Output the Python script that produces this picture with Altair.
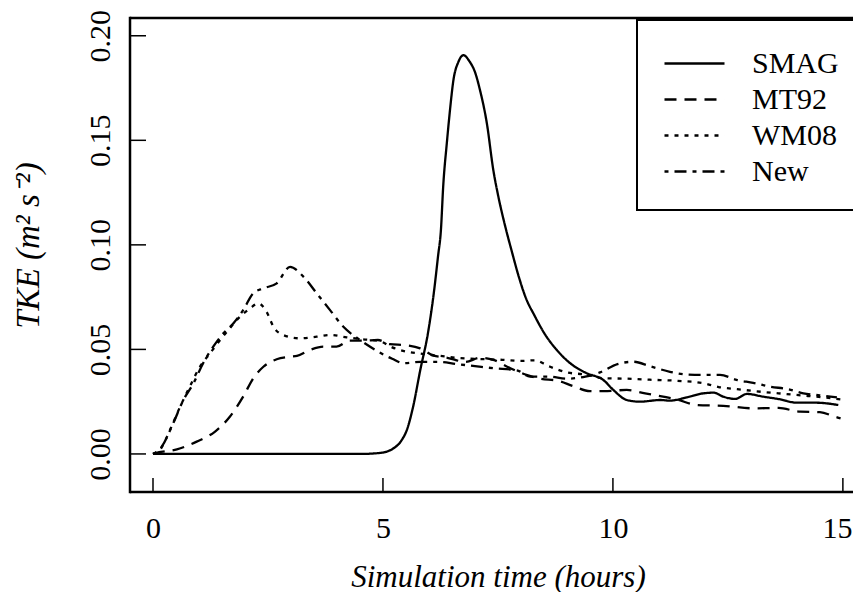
import altair as alt
import pandas as pd

# ---------------- data ----------------
models = ["SMAG", "MT92", "WM08", "New"]

smag_t = [0, 1, 2, 3, 4, 4.5, 4.94, 5.23, 5.41, 5.52, 5.65, 5.81, 5.98, 6.1, 6.2, 6.26, 6.31,
          6.39, 6.46, 6.53, 6.64, 6.75, 6.88, 7.0, 7.11, 7.26, 7.4, 7.51, 7.66, 7.8, 7.95,
          8.1, 8.3, 8.5, 8.78, 9.07, 9.43, 9.79, 10.01, 10.3, 10.59, 11.03, 11.24, 11.61,
          11.97, 12.19, 12.4, 12.66, 12.91, 13.27, 13.64, 14.0, 14.43, 14.9]
smag_v = [0, 0, 0, 0, 0, 0, 0.0005, 0.0027, 0.0067, 0.0115, 0.022, 0.040, 0.058, 0.076,
          0.095, 0.107, 0.128, 0.149, 0.165, 0.1785, 0.1875, 0.1907, 0.1878, 0.1827, 0.174,
          0.158, 0.1357, 0.123, 0.1087, 0.097, 0.085, 0.075, 0.066, 0.058, 0.0497, 0.0434,
          0.0386, 0.0354, 0.0306, 0.0258, 0.025, 0.0258, 0.0255, 0.0271, 0.029, 0.0293,
          0.0274, 0.0263, 0.0287, 0.0274, 0.0261, 0.0245, 0.0245, 0.0234]

mt92_t = [0, 0.04, 0.52, 0.95, 1.35, 1.67, 1.96, 2.18, 2.4, 2.69, 2.98, 3.13, 3.41, 3.7, 3.99,
          4.28, 4.57, 4.89, 5.15, 5.5, 5.81, 6.1, 6.4, 6.8, 7.1, 7.4, 7.77, 8.1, 8.42, 8.8,
          9.13, 9.5, 9.8, 10.3, 10.7, 11.09, 11.4, 11.82, 12.4, 13.06, 13.6, 14.07, 14.5,
          14.83, 14.95]
mt92_v = [0, 0.0003, 0.0022, 0.0059, 0.0107, 0.0178, 0.0274, 0.0362, 0.0417, 0.0453, 0.0465,
          0.0469, 0.0497, 0.0513, 0.0513, 0.0542, 0.0542, 0.0545, 0.0525, 0.052, 0.0505,
          0.047, 0.046, 0.044, 0.046, 0.045, 0.041, 0.038, 0.036, 0.035, 0.0325, 0.030,
          0.030, 0.0306, 0.029, 0.0274, 0.026, 0.0234, 0.023, 0.0218, 0.022, 0.0202, 0.020,
          0.0178, 0.017]

wm08_t = [0, 0.15, 0.37, 0.59, 0.8, 1.02, 1.24, 1.46, 1.67, 1.89, 2.11, 2.29, 2.47, 2.62,
          2.83, 3.2, 3.56, 3.85, 4.21, 4.57, 4.9, 5.2, 5.5, 5.8, 6.2, 6.6, 7.0, 7.6, 8.0,
          8.3, 8.6, 9.0, 9.4, 9.8, 10.3, 10.8, 11.4, 11.97, 12.3, 12.7, 13.1, 13.6, 14.1,
          14.6, 15.0]
wm08_v = [0, 0.0019, 0.0115, 0.0226, 0.0322, 0.0417, 0.0481, 0.0545, 0.0601, 0.0656, 0.0696,
          0.072, 0.068, 0.0608, 0.0569, 0.0553, 0.0561, 0.0569, 0.0558, 0.0548, 0.0542,
          0.051, 0.049, 0.048, 0.047, 0.046, 0.0455, 0.045, 0.0445, 0.0448, 0.042, 0.039,
          0.038, 0.0362, 0.036, 0.0355, 0.035, 0.0338, 0.032, 0.031, 0.030, 0.029, 0.028,
          0.027, 0.026]

new_t = [0, 0.19, 0.44, 0.66, 0.88, 1.09, 1.31, 1.53, 1.75, 1.96, 2.18, 2.4, 2.69, 2.98,
         3.27, 3.56, 3.85, 4.14, 4.5, 4.9, 5.2, 5.45, 5.81, 6.2, 6.6, 7.0, 7.4, 7.91, 8.2,
         8.6, 9.0, 9.4, 9.72, 10.1, 10.45, 10.8, 11.24, 11.6, 11.97, 12.33, 12.69, 13.05,
         13.42, 13.8, 14.14, 14.5, 14.87]
new_v = [0, 0.0035, 0.0147, 0.0258, 0.0338, 0.0434, 0.0513, 0.0577, 0.0625, 0.0688, 0.0768,
         0.0792, 0.0816, 0.0895, 0.0848, 0.0768, 0.0688, 0.0608, 0.0545, 0.0489, 0.0455,
         0.0434, 0.044, 0.044, 0.043, 0.042, 0.041, 0.040, 0.037, 0.037, 0.036, 0.037,
         0.039, 0.043, 0.0441, 0.042, 0.0393, 0.038, 0.0378, 0.0378, 0.0354, 0.034, 0.0322,
         0.031, 0.029, 0.028, 0.0271]

x_ticks = [0, 5, 10, 15]
y_ticks = [0.0, 0.05, 0.10, 0.15, 0.20]

# ---------------- table ----------------
rows = []
for name, ts, vs in [("SMAG", smag_t, smag_v), ("MT92", mt92_t, mt92_v),
                     ("WM08", wm08_t, wm08_v), ("New", new_t, new_v)]:
    for i, (t, v) in enumerate(zip(ts, vs)):
        rows.append({"time": t, "tke": v, "model": name, "idx": i})
df = pd.DataFrame(rows)

FONT = "Liberation Serif"
W, H = 723, 474
x_scale = alt.Scale(domain=[-0.5, 15.22], nice=False, zero=False)
y_scale = alt.Scale(domain=[-0.0182, 0.2085], nice=False, zero=False)
dashes = [[1, 0], [12, 8], [4, 6], [4, 6, 12, 6]]

x_axis = alt.Axis(
    values=x_ticks, format="d", ticks=False, domain=False, grid=False,
    labelFont=FONT, labelFontSize=30, labelColor="black", labelPadding=21,
    labelFlush=15, labelFlushOffset=9, labelOverlap=False,
    title="Simulation time (hours)", titleFont=FONT, titleFontSize=31,
    titleFontStyle="italic", titleFontWeight="normal", titleColor="black",
    titleX=368, titleY=94, titleAlign="center", titleBaseline="alphabetic")
y_axis = alt.Axis(
    values=y_ticks, format=".2f", ticks=False, domain=False, grid=False,
    labelFont=FONT, labelFontSize=30, labelColor="black", labelAngle=270,
    labelAlign="center", labelBaseline="middle", labelPadding=30,
    labelFlush=False, labelOverlap=False,
    title="TKE (m² s⁻²)", titleFont=FONT, titleFontSize=33,
    titleFontStyle="italic", titleFontWeight="normal", titleColor="black",
    titleAngle=270, titleX=-102, titleY=227, titleAlign="center",
    titleBaseline="middle")

lines = alt.Chart(df).mark_line(color="black", strokeWidth=2.3, strokeCap="butt",
                                interpolate="monotone", clip=True).encode(
    x=alt.X("time:Q", scale=x_scale, axis=x_axis),
    y=alt.Y("tke:Q", scale=y_scale, axis=y_axis),
    strokeDash=alt.StrokeDash("model:N", scale=alt.Scale(domain=models, range=dashes),
                              sort=models,
                              legend=alt.Legend(title=None, orient="none", legendX=507,
                                                legendY=2,
                                                symbolType="M-1.579,0H1.579",
                                                symbolSize=1444, symbolStrokeWidth=2.3,
                                                symbolStrokeColor="black",
                                                symbolFillColor="transparent",
                                                symbolOffset=14,
                                                labelFont=FONT, labelFontSize=30,
                                                labelColor="black", labelOffset=37,
                                                padding=23, rowPadding=0,
                                                strokeColor="black", fillColor="white")),
    order="idx:Q",
)

xt = pd.DataFrame({"time": x_ticks})
yt = pd.DataFrame({"tke": y_ticks})
x_tick_rules = alt.Chart(xt).mark_rule(color="black", strokeWidth=1.5).encode(
    x=alt.X("time:Q", scale=x_scale, axis=x_axis),
    y=alt.value(H), y2=alt.value(H - 14))
y_tick_rules = alt.Chart(yt).mark_rule(color="black", strokeWidth=1.5).encode(
    y=alt.Y("tke:Q", scale=y_scale, axis=y_axis),
    x=alt.value(0), x2=alt.value(16))

one = pd.DataFrame({"a": [0]})
border_left = alt.Chart(one).mark_rule(color="black", strokeWidth=2.5).encode(
    x=alt.value(0), y=alt.value(-1.2), y2=alt.value(H + 1.2))
border_top = alt.Chart(one).mark_rule(color="black", strokeWidth=2.5).encode(
    x=alt.value(0), x2=alt.value(W), y=alt.value(0))
border_bottom = alt.Chart(one).mark_rule(color="black", strokeWidth=2.5).encode(
    x=alt.value(0), x2=alt.value(W), y=alt.value(H))

chart = alt.layer(
    lines, x_tick_rules, y_tick_rules, border_left, border_top, border_bottom
).properties(
    width=W, height=H,
    autosize=alt.AutoSizeParams(type="none"),
    padding={"left": 122, "top": 10, "right": 0, "bottom": 100},
).configure_view(stroke=None).configure_legend(strokeWidth=2)

chart.save("out.html", embed_options={"renderer": "svg", "actions": False})
